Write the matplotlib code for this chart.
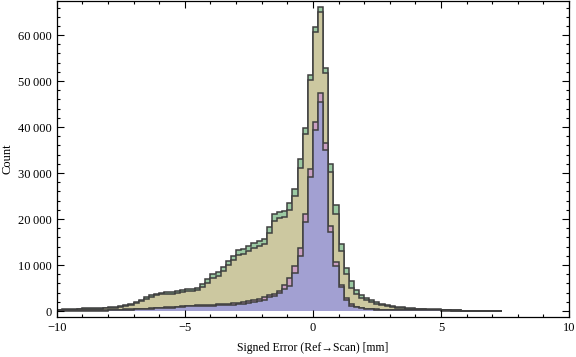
import numpy as np
import matplotlib
matplotlib.use("Agg")
import matplotlib.pyplot as plt
from matplotlib.ticker import MultipleLocator, FuncFormatter

plt.rcParams['font.family'] = ['Liberation Serif', 'DejaVu Serif']

# bins of 0.2 mm from -10 to 7.4
edges = np.round(np.arange(-10.0, 7.4 + 1e-9, 0.2), 1)

# counts in thousands (5 bins per row)
green = [0.3, 0.4, 0.4, 0.4, 0.45,
         0.6, 0.65, 0.65, 0.65, 0.7,
         0.85, 0.9, 1.15, 1.3, 1.5,
         1.9, 2.5, 3.0, 3.4, 3.8,
         4.0, 4.1, 4.1, 4.3, 4.5,
         4.7, 4.8, 5.1, 5.9, 6.9,
         8.0, 8.4, 9.5, 10.9, 12.0,
         13.2, 13.5, 14.1, 14.9, 15.3,
         15.6, 18.3, 21.1, 21.6, 21.8,
         23.5, 26.5, 33.0, 39.9, 51.4,
         61.7, 66.2, 52.8, 31.9, 23.0,
         14.5, 9.3, 6.5, 4.6, 3.5,
         2.9, 2.4, 2.0, 1.6, 1.3,
         1.1, 0.9, 0.8, 0.7, 0.6,
         0.55, 0.5, 0.45, 0.4, 0.35,
         0.3, 0.3, 0.25, 0.2, 0.1,
         0.05, 0.05, 0.05, 0.05, 0.05, 0.05, 0.05]

tan = [0.25, 0.3, 0.3, 0.3, 0.35,
       0.5, 0.55, 0.55, 0.55, 0.6,
       0.7, 0.75, 0.95, 1.1, 1.3,
       1.7, 2.2, 2.7, 3.1, 3.5,
       3.7, 3.8, 3.8, 4.0, 4.2,
       4.3, 4.4, 4.6, 5.3, 6.2,
       7.2, 7.7, 8.7, 10.0, 11.0,
       12.1, 12.5, 13.0, 13.8, 14.2,
       14.5, 17.0, 19.6, 20.2, 20.4,
       22.0, 25.0, 31.2, 38.6, 50.2,
       60.6, 65.0, 51.7, 30.3, 21.2,
       13.1, 8.0, 5.1, 3.7, 2.9,
       2.4, 1.9, 1.6, 1.3, 1.0,
       0.85, 0.7, 0.6, 0.5, 0.45,
       0.4, 0.35, 0.3, 0.3, 0.25,
       0.2, 0.2, 0.15, 0.15, 0.05,
       0.03, 0.03, 0.03, 0.03, 0.03, 0.03, 0.03]

pink = [0.15, 0.15, 0.15, 0.15, 0.15,
        0.15, 0.15, 0.15, 0.15, 0.15,
        0.2, 0.25, 0.3, 0.35, 0.4,
        0.45, 0.5, 0.55, 0.6, 0.7,
        0.75, 0.85, 0.9, 0.95, 1.05,
        1.15, 1.2, 1.25, 1.3, 1.35,
        1.4, 1.45, 1.5, 1.6, 1.7,
        1.8, 1.9, 2.2, 2.4, 2.6,
        3.0, 3.5, 3.8, 4.4, 5.6,
        7.1, 9.7, 13.6, 21.2, 30.8,
        41.2, 47.5, 36.6, 18.4, 10.7,
        5.7, 2.8, 1.5, 0.9, 0.7,
        0.5, 0.4, 0.35, 0.3, 0.25,
        0.25, 0.25, 0.25, 0.25, 0.25,
        0.2, 0.2, 0.2, 0.2, 0.2,
        0.15, 0.15, 0.1, 0.1, 0.05,
        0.03, 0.03, 0.03, 0.03, 0.03, 0.03, 0.03]

purple = [0.1, 0.1, 0.1, 0.1, 0.1,
          0.1, 0.1, 0.1, 0.1, 0.1,
          0.15, 0.15, 0.2, 0.25, 0.3,
          0.35, 0.4, 0.45, 0.5, 0.6,
          0.65, 0.7, 0.75, 0.8, 0.9,
          1.0, 1.05, 1.1, 1.15, 1.2,
          1.2, 1.25, 1.3, 1.35, 1.4,
          1.5, 1.6, 1.8, 2.0, 2.2,
          2.5, 3.0, 3.3, 3.9, 4.8,
          5.5, 8.2, 12.0, 19.4, 29.1,
          39.3, 45.5, 35.1, 17.2, 9.8,
          5.2, 2.4, 1.2, 0.8, 0.6,
          0.4, 0.35, 0.3, 0.25, 0.2,
          0.2, 0.2, 0.2, 0.2, 0.2,
          0.15, 0.15, 0.15, 0.15, 0.15,
          0.1, 0.1, 0.08, 0.08, 0.04,
          0.02, 0.02, 0.02, 0.02, 0.02, 0.02, 0.02]

layers = [(green, '#9ccaa3'), (tan, '#ccc8a0'), (pink, '#cba0c3'), (purple, '#a2a0d2')]

fig = plt.figure(figsize=(5.76, 3.57), dpi=100)
ax = fig.add_axes([0.0984, 0.112, 0.8896, 0.885])

for vals, col in layers:
    v = np.array(vals) * 1000
    ax.stairs(v, edges, fill=True, facecolor=col, edgecolor='none', baseline=0)
    ax.stairs(v, edges, fill=False, color='#3f3f3f', linewidth=1.1, baseline=0)

ax.set_xlim(-10, 10)
ax.set_ylim(-1300, 67400)

ax.xaxis.set_major_locator(MultipleLocator(5))
ax.xaxis.set_minor_locator(MultipleLocator(1))
ax.yaxis.set_major_locator(MultipleLocator(10000))
ax.yaxis.set_minor_locator(MultipleLocator(2000))

ax.xaxis.set_major_formatter(FuncFormatter(lambda x, p: f"{x:.0f}".replace('-', '\u2212')))
ax.yaxis.set_major_formatter(FuncFormatter(lambda y, p: f"{y:,.0f}".replace(',', '\u2009')))

ax.tick_params(which='both', direction='in', top=True, right=True, labelsize=9, width=0.8)
ax.tick_params(which='major', length=5)
ax.tick_params(which='minor', length=2.5)
for s in ax.spines.values():
    s.set_linewidth(0.9)

ax.set_xlabel('Signed Error (Ref\u2192Scan) [mm]', fontsize=8.5, labelpad=6)
ax.set_ylabel('Count', fontsize=9, labelpad=3)

fig.savefig('out.png', dpi=100)
